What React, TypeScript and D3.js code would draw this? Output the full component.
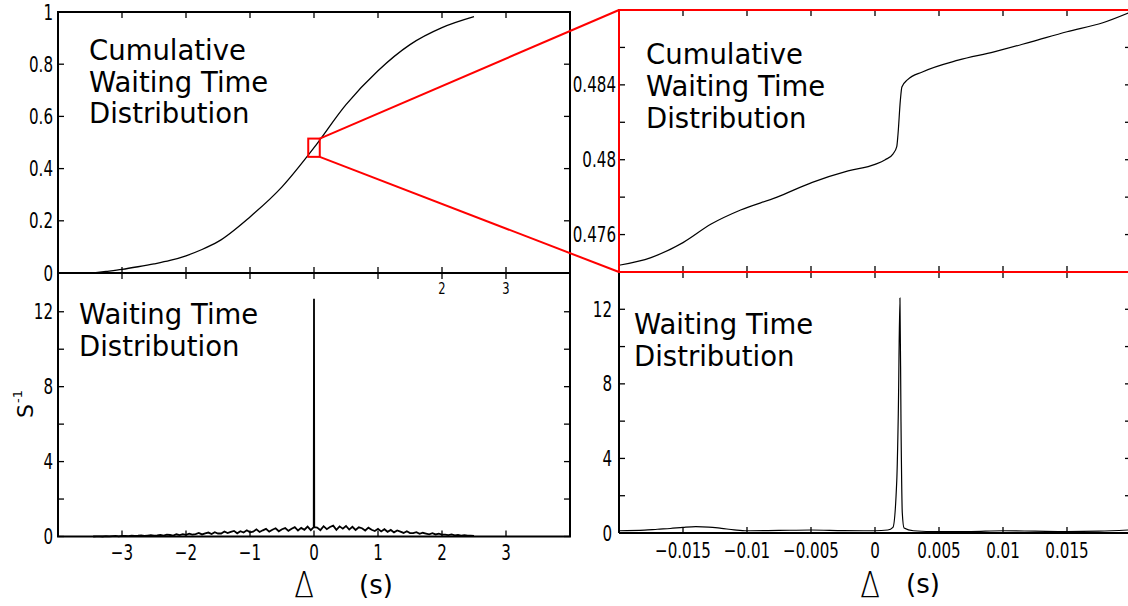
import React from "react";
import * as d3 from "d3";

// ---- Data ---------------------------------------------------------------

// Cumulative waiting time distribution (full range), Δ in seconds
const cdfDelta = [-3.45, -3.25, -3.0, -2.75, -2.5, -2.25, -2.0, -1.75, -1.5, -1.0, -0.5, 0, 0.5, 1.0, 1.5, 2.0, 2.5];
const cdfValue = [0, 0.006, 0.014, 0.024, 0.035, 0.048, 0.066, 0.09, 0.12, 0.215, 0.33, 0.48, 0.645, 0.775, 0.875, 0.94, 0.982];

// Cumulative distribution, zoomed around Δ = 0
const zoomCdfDelta = [-0.02, -0.0175, -0.015, -0.0128, -0.0105, -0.0077, -0.0049, -0.0021, 0, 0.0008, 0.0014, 0.0017, 0.0018, 0.00198, 0.0021, 0.00255, 0.0037, 0.0065, 0.0093, 0.0122, 0.015, 0.0178, 0.02];
const zoomCdfValue = [0.47436, 0.47477, 0.47557, 0.47656, 0.47731, 0.47799, 0.47879, 0.4794, 0.47975, 0.48, 0.4803, 0.4807, 0.48139, 0.48317, 0.48389, 0.48428, 0.48469, 0.48532, 0.48576, 0.4863, 0.48684, 0.48732, 0.4879];

// Waiting time density (s^-1), histogram bins of 0.05 s starting at -3.45 s
const densityStart = -3.45;
const densityBin = 0.05;
const densityValue = [
  0.00, 0.01, 0.01, 0.00, 0.02, 0.01, 0.02, 0.03, 0.01, 0.03,
  0.03, 0.02, 0.05, 0.03, 0.04, 0.06, 0.03, 0.05, 0.07, 0.04,
  0.06, 0.09, 0.05, 0.10, 0.08, 0.05, 0.12, 0.08, 0.13, 0.09,
  0.15, 0.10, 0.13, 0.19, 0.11, 0.17, 0.21, 0.13, 0.23, 0.16,
  0.16, 0.27, 0.18, 0.25, 0.30, 0.17, 0.28, 0.21, 0.33, 0.22,
  0.26, 0.38, 0.24, 0.33, 0.41, 0.26, 0.36, 0.44, 0.28, 0.39,
  0.45, 0.30, 0.41, 0.50, 0.32, 0.46, 0.36, 0.53, 0.34, 0.58,
  0.48, 0.34, 0.55, 0.39, 0.51, 0.58, 0.36, 0.54, 0.42, 0.56,
  0.37, 0.52, 0.35, 0.49, 0.44, 0.32, 0.47, 0.36, 0.29, 0.41,
  0.27, 0.39, 0.25, 0.35, 0.22, 0.32, 0.26, 0.19, 0.28, 0.18,
  0.18, 0.23, 0.14, 0.20, 0.16, 0.12, 0.18, 0.11, 0.15, 0.10,
  0.10, 0.07, 0.11, 0.06, 0.08, 0.05, 0.07, 0.04, 0.05, 0.03,
];
// Sharp peak at Δ = 0
const peakDelta = [-0.004, 0, 0.004];
const peakValue = [0.5, 12.7, 0.5];

// Density, zoomed around Δ = 0
const zoomPdfDelta = [-0.02, -0.018, -0.017, -0.016, -0.015, -0.014, -0.013, -0.012, -0.011, -0.01, -0.0075, -0.005, -0.0025, 0, 0.001, 0.0014, 0.0017, 0.00182, 0.00195, 0.00203, 0.00213, 0.00227, 0.003, 0.005, 0.0075, 0.01, 0.0125, 0.015, 0.0175, 0.02];
const zoomPdfValue = [0.12, 0.15, 0.2, 0.24, 0.3, 0.34, 0.32, 0.25, 0.17, 0.12, 0.14, 0.16, 0.13, 0.12, 0.16, 0.3, 2.8, 6.4, 12.6, 6.0, 1.1, 0.27, 0.12, 0.07, 0.08, 0.12, 0.1, 0.08, 0.1, 0.17];

// Axis ticks
const fullXTicks = [-3, -2, -1, 0, 1, 2, 3];
const cdfYTicks = [0, 0.2, 0.4, 0.6, 0.8, 1];
const cdfYLabels = ["0", "0.2", "0.4", "0.6", "0.8", "1"];
const strayTopLabels = [2, 3];
const densityYTicks = [0, 2, 4, 6, 8, 10, 12];
const densityYLabels = [0, 4, 8, 12];
const zoomXTicks = [-0.015, -0.01, -0.005, 0, 0.005, 0.01, 0.015];
const zoomXLabels = ["\u22120.015", "\u22120.01", "\u22120.005", "0", "0.005", "0.01", "0.015"];
const zoomCdfYTicks = [0.476, 0.478, 0.48, 0.482, 0.484, 0.486];
const zoomCdfYLabels = [0.476, 0.48, 0.484];

// Region of the full CDF shown in the zoomed panel (marker box)
const zoomBoxDelta = [-0.09, 0.09];
const zoomBoxValue = [0.445, 0.515];

// ---- Drawing ------------------------------------------------------------

const FONT = "'DejaVu Sans', Verdana, sans-serif";
const RED = "#ff0000";

const fmtFull = (v: number) => (v < 0 ? "\u2212" + Math.abs(v) : String(v));

type Side = "left" | "right" | "top" | "bottom";

function Ticks({ values, scale, side, at, len = 6 }: { values: number[]; scale: (v: number) => number; side: Side; at: number; len?: number }) {
  return (
    <g stroke="#000" strokeWidth={1.3}>
      {values.map((v, i) => {
        const p = scale(v);
        if (side === "left") return <line key={i} x1={at} x2={at + len} y1={p} y2={p} />;
        if (side === "right") return <line key={i} x1={at} x2={at - len} y1={p} y2={p} />;
        if (side === "top") return <line key={i} x1={p} x2={p} y1={at} y2={at + len} />;
        return <line key={i} x1={p} x2={p} y1={at} y2={at - len} />;
      })}
    </g>
  );
}

function TickLabel({ x, y, text, anchor, size = 21 }: { x: number; y: number; text: string; anchor: "start" | "middle" | "end"; size?: number }) {
  return (
    <text transform={`translate(${x},${y}) scale(0.72,1)`} textAnchor={anchor} fontFamily={FONT} fontSize={size} fill="#000">
      {text}
    </text>
  );
}

function Note({ x, y, lines, lh = 31.5 }: { x: number; y: number; lines: string[]; lh?: number }) {
  return (
    <text x={x} y={y} fontFamily={FONT} fontSize={27.5} fill="#000">
      {lines.map((l, i) => (
        <tspan key={i} x={x} dy={i === 0 ? 0 : lh}>
          {l}
        </tspan>
      ))}
    </text>
  );
}

export default function App() {
  // scales
  const fx = d3.scaleLinear().domain([-4, 4]).range([58, 570]);
  const cy = d3.scaleLinear().domain([0, 1]).range([273, 12]);
  const py = d3.scaleLinear().domain([0, 14]).range([536.5, 274.3]);
  const zx = d3.scaleLinear().domain([-0.02, 0.02]).range([619, 1131]);
  const zcy = d3.scaleLinear().domain([0.474, 0.488]).range([272, 10]);
  const zpy = d3.scaleLinear().domain([0, 14]).range([533, 272]);

  const cdfLine = d3
    .line<number>()
    .x((_, i) => fx(cdfDelta[i]))
    .y((v) => cy(v))
    .curve(d3.curveMonotoneX);

  const zoomCdfLine = d3
    .line<number>()
    .x((_, i) => zx(zoomCdfDelta[i]))
    .y((v) => zcy(v))
    .curve(d3.curveMonotoneX);

  const densityPts: [number, number][] = densityValue
    .map((v, i) => [densityStart + i * densityBin, v] as [number, number])
    .filter((p) => Math.abs(p[0]) > 1e-9);
  peakDelta.forEach((d, i) => densityPts.push([d, peakValue[i]]));
  densityPts.sort((a, b) => a[0] - b[0]);
  const densityLine = d3
    .line<[number, number]>()
    .x((p) => fx(p[0]))
    .y((p) => py(p[1]));

  const zoomPdfLine = d3
    .line<number>()
    .x((_, i) => zx(zoomPdfDelta[i]))
    .y((v) => zpy(v))
    .curve(d3.curveMonotoneX);

  const L = 58, R = 570, T = 12, M = 273, B = 536.5;
  const ZL = 619, ZR = 1131, ZT = 10, ZM = 272, ZB = 533;

  const bx0 = fx(zoomBoxDelta[0]), bx1 = fx(zoomBoxDelta[1]);
  const by0 = cy(zoomBoxValue[1]), by1 = cy(zoomBoxValue[0]);

  return (
    <div style={{ position: "absolute", left: 0, top: 0 }}>
      <svg width={1128} height={606} style={{ display: "block", background: "#fff" }}>
        <rect width={1128} height={606} fill="#fff" />

        {/* ---------- full-range panels (left) ---------- */}
        <g fill="none" stroke="#000" strokeWidth={2}>
          <rect x={L} y={T} width={R - L} height={M - T} />
          <rect x={L} y={M} width={R - L} height={B - M} />
        </g>
        <Ticks values={fullXTicks} scale={fx} side="top" at={T} />
        <Ticks values={fullXTicks} scale={fx} side="bottom" at={M} />
        <Ticks values={cdfYTicks} scale={cy} side="left" at={L} />
        <Ticks values={cdfYTicks} scale={cy} side="right" at={R} />
        <Ticks values={fullXTicks} scale={fx} side="top" at={M} />
        <Ticks values={fullXTicks} scale={fx} side="bottom" at={B} />
        <Ticks values={densityYTicks} scale={py} side="left" at={L} />
        <Ticks values={densityYTicks} scale={py} side="right" at={R} />

        {cdfYTicks.map((v, i) => (
          <TickLabel key={i} x={53} y={cy(v) + 7.5} text={cdfYLabels[i]} anchor="end" />
        ))}
        {strayTopLabels.map((v) => (
          <TickLabel key={v} x={fx(v)} y={294} text={String(v)} anchor="middle" size={16} />
        ))}
        {densityYLabels.map((v) => (
          <TickLabel key={v} x={53} y={py(v) + 7.5} text={String(v)} anchor="end" />
        ))}
        {fullXTicks.map((v) => (
          <TickLabel key={v} x={fx(v)} y={559.5} text={fmtFull(v)} anchor="middle" />
        ))}

        <path d={cdfLine(cdfValue) || ""} fill="none" stroke="#000" strokeWidth={1.3} />
        <path d={densityLine(densityPts) || ""} fill="none" stroke="#000" strokeWidth={1.8} strokeLinejoin="miter" />

        <Note x={89} y={60} lines={["Cumulative", "Waiting Time", "Distribution"]} />
        <Note x={79} y={323.5} lines={["Waiting Time", "Distribution"]} lh={32.5} />

        {/* y-axis title */}
        <text transform="translate(33,418) rotate(-90)" fontFamily={FONT} fontSize={22} fill="#000">
          S<tspan fontSize={13} dy={-11} dx={1}>-1</tspan>
        </text>
        {/* x-axis titles */}
        <text transform="translate(304,597) scale(0.8,1)" textAnchor="middle" fontFamily={FONT} fontSize={36} fontWeight={300} fill="#000">Δ</text>
        <text x={359} y={594} fontFamily={FONT} fontSize={26} fill="#000">(s)</text>

        {/* ---------- zoomed panels (right) ---------- */}
        <g fill="none" stroke="#000" strokeWidth={2}>
          <line x1={ZL} x2={ZL} y1={ZM} y2={ZB} />
          <line x1={ZL} x2={ZR} y1={ZB} y2={ZB} />
          <line x1={ZR} x2={ZR} y1={ZM} y2={ZB} />
        </g>
        <Ticks values={zoomXTicks} scale={zx} side="top" at={ZT} />
        <Ticks values={zoomXTicks} scale={zx} side="bottom" at={ZM} />
        <Ticks values={zoomCdfYTicks} scale={zcy} side="left" at={ZL} />
        <Ticks values={zoomCdfYTicks} scale={zcy} side="right" at={ZR} />
        <Ticks values={zoomXTicks} scale={zx} side="top" at={ZM} />
        <Ticks values={zoomXTicks} scale={zx} side="bottom" at={ZB} />
        <Ticks values={densityYTicks} scale={zpy} side="left" at={ZL} />
        <Ticks values={densityYTicks} scale={zpy} side="right" at={ZR} />

        {zoomCdfYLabels.map((v) => (
          <TickLabel key={v} x={616} y={zcy(v) + 7.5} text={String(v)} anchor="end" />
        ))}
        {densityYLabels.map((v) => (
          <TickLabel key={v} x={612} y={zpy(v) + 7.5} text={String(v)} anchor="end" />
        ))}
        {zoomXTicks.map((v, i) => (
          <TickLabel key={v} x={zx(v)} y={557.5} text={zoomXLabels[i]} anchor="middle" />
        ))}

        <path d={zoomCdfLine(zoomCdfValue) || ""} fill="none" stroke="#000" strokeWidth={1.2} />
        <path d={zoomPdfLine(zoomPdfValue) || ""} fill="none" stroke="#000" strokeWidth={1.2} />

        <Note x={646} y={63.5} lines={["Cumulative", "Waiting Time", "Distribution"]} lh={32} />
        <Note x={634} y={333.5} lines={["Waiting Time", "Distribution"]} lh={32.5} />

        <text transform="translate(870,597) scale(0.8,1)" textAnchor="middle" fontFamily={FONT} fontSize={36} fontWeight={300} fill="#000">Δ</text>
        <text x={906} y={593} fontFamily={FONT} fontSize={26} fill="#000">(s)</text>

        {/* ---------- zoom indicator ---------- */}
        <g fill="none" stroke={RED} strokeWidth={2}>
          <rect x={bx0} y={by0} width={bx1 - bx0} height={by1 - by0} />
          <line x1={bx1} y1={by0} x2={ZL} y2={ZT} />
          <line x1={bx1} y1={by1} x2={ZL} y2={ZM} />
          <rect x={ZL} y={ZT} width={ZR - ZL} height={ZM - ZT} />
        </g>
      </svg>
    </div>
  );
}
